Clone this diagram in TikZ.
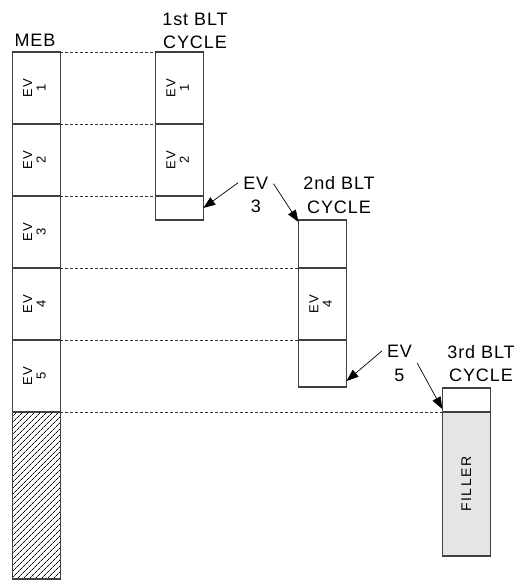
\documentclass[tikz,border=0pt]{standalone}
\usepackage{fontspec}
\setmainfont{Liberation Sans}[LetterSpace=5]
\usetikzlibrary{positioning,arrows.meta,patterns.meta}
\newcommand{\evtext}[1]{\rotatebox{90}{\fontsize{13}{13.5}\selectfont\addfontfeature{LetterSpace=14}\begin{tabular}{@{}c@{}}EV\\#1\end{tabular}}}

\begin{document}
\begin{tikzpicture}[x=1pt,y=-1pt]
        % Styles
        \tikzstyle{cell}=[draw=black!75,line width=1.1pt,minimum width=48pt,inner sep=0pt,outer sep=0pt]
        \tikzstyle{guide}=[dash pattern=on 3pt off 2pt,line width=0.6pt,black!80]
        \tikzstyle{pointer}=[line width=0.7pt,-{Triangle[length=12pt,width=9pt]}]
        \tikzstyle{title}=[font=\fontsize{18}{23.5}\selectfont,align=center,inner sep=0pt]
        \useasboundingbox (0,0) rectangle (521,581);
        %MEB column
        \node[title,anchor=base] (meb) at (35,46.7) {MEB};
        \foreach \i in {1,...,5}
            \node[cell,minimum height=72pt,anchor=north west] (m\i) at (12.3,{52+72*(\i-1)}) {\evtext{\i}};
        \node[cell,minimum height=167pt,below=0pt of m5,
              pattern={Lines[angle=45,distance=4pt,line width=0.8pt]}] (m6) {};
        %1st BLT cycle
        \node[title,anchor=north] (blt1) at (195,12.7) {1st BLT\\CYCLE};
        \node[cell,minimum height=72pt,anchor=north west] (b1) at (155.3,52) {\evtext{1}};
        \node[cell,minimum height=72pt,below=0pt of b1] (b2) {\evtext{2}};
        \node[cell,minimum height=24pt,below=0pt of b2] (b3) {};
        %2nd BLT cycle
        \node[title,anchor=north] (blt2) at (339,176.7) {2nd BLT\\CYCLE};
        \node[cell,minimum height=48pt,anchor=north west] (c1) at (298.5,220) {};
        \node[cell,minimum height=72pt,below=0pt of c1] (c2) {\evtext{4}};
        \node[cell,minimum height=47pt,below=0pt of c2] (c3) {};
        %3rd BLT cycle
        \node[title,anchor=north] (blt3) at (481,345) {3rd BLT\\CYCLE};
        \node[cell,minimum height=24pt,anchor=north west] (d1) at (442.3,388) {};
        \node[cell,minimum height=144pt,below=0pt of d1,fill=black!10] (d2)
            {\rotatebox{90}{\fontsize{14}{15}\selectfont\addfontfeature{LetterSpace=12}FILLER}};
        %guides
        \foreach \a/\b in {m1/b1,m2/b2,m3/b3,m4/c2,m5/c3,m6/d2}
            \draw[guide] (\a.north east) -- (\b.north west);
        %events
        \node[title,anchor=north] (ev3) at (255.8,176.7) {EV\\3};
        \node[title,anchor=north] (ev5) at (399.5,345) {EV\\5};
        \draw[pointer] ([xshift=-5pt,yshift=-6pt]ev3.north west) -- (b3.east);
        \draw[pointer] ([xshift=5pt,yshift=-7pt]ev3.north east) -- ([yshift=-2pt]c1.north west);
        \draw[pointer] ([xshift=-5pt,yshift=-6pt]ev5.north west) -- ([yshift=6pt]c3.south east);
        \draw[pointer] ([xshift=5pt,yshift=-18pt]ev5.north east) -- ([yshift=3pt]d2.north west);
\end{tikzpicture}
\end{document}
